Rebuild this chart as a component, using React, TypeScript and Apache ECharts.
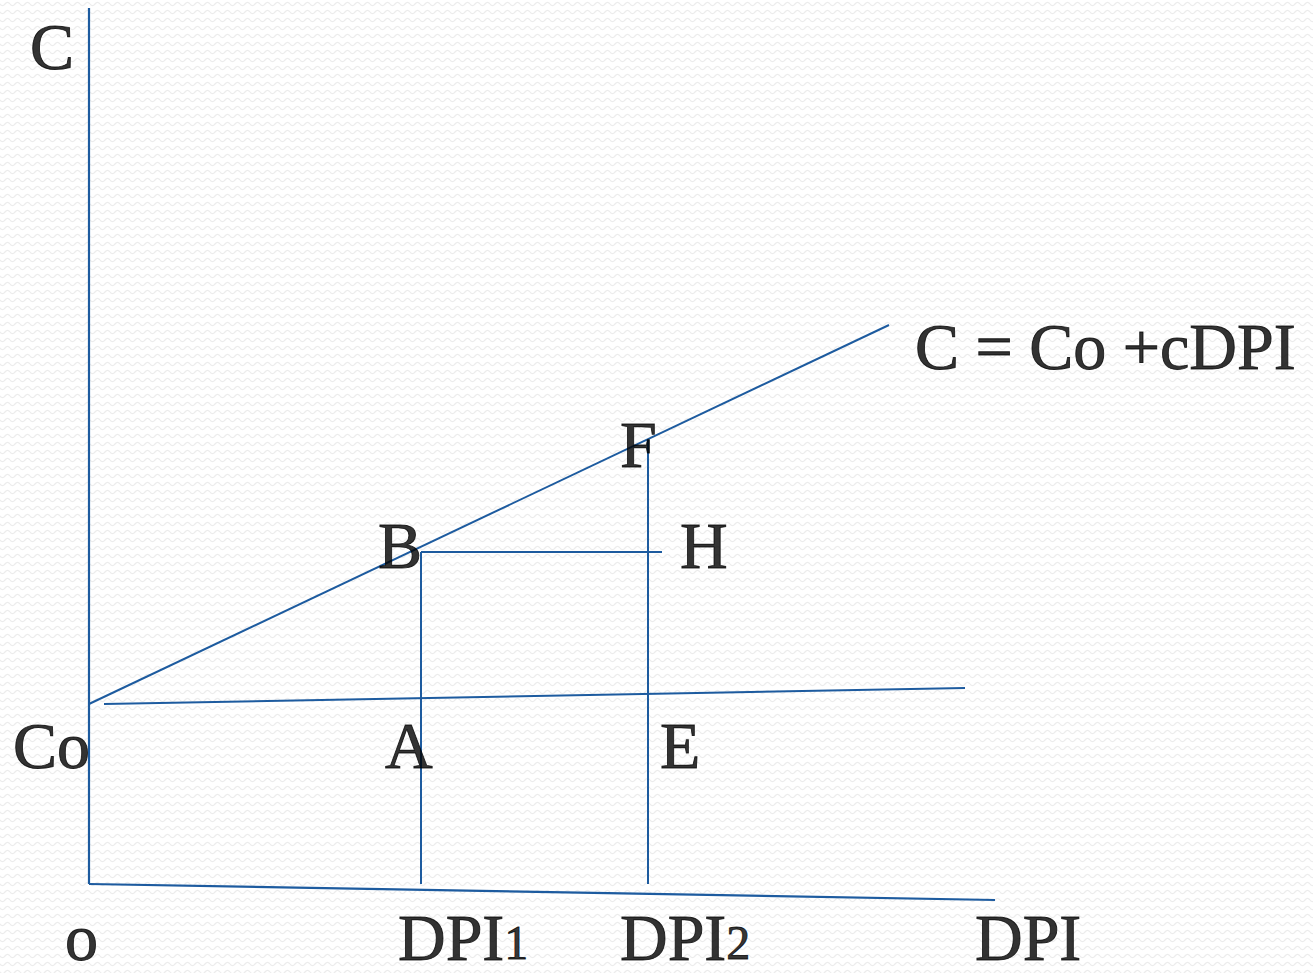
import React, { useEffect, useRef } from "react";
import * as echarts from "echarts";

// Diagram units: origin at the corner of the axes, y upwards.
const yAxisLine: number[][] = [[0, 0], [0, 876]];
const xAxisLine: number[][] = [[0, 0], [906, -16]];
const consumptionLine: number[][] = [[0, 180], [800, 559]];
const autonomousLine: number[][] = [[15, 180], [876, 196]];
const dpi1Line: number[][] = [[332, 0], [332, 332]];
const dpi2Line: number[][] = [[559, 0], [559, 444]];
const bhLine: number[][] = [[332, 332], [573, 332]];

// Label anchors (left edge, vertical middle) and their texts
const labelNames: string[] = ["C", "eq", "F", "B", "H", "A", "E", "Co", "o", "DPI1", "DPI2", "DPI"];
const labelX: number[] = [-59, 826, 531, 289, 591, 296, 571, -76, -24, 309, 531, 886];
const labelY: number[] = [838, 538, 440, 339, 339, 139, 139, 139, -53, -53, -53, -53];
const labelTexts: string[] = [
  "{m|C}",
  "{m|C = Co +cDPI}",
  "{m|F}",
  "{m|B}",
  "{m|H}",
  "{m|A}",
  "{m|E}",
  "{m|Co}",
  "{m|o}",
  "{m|DPI}{s|1}",
  "{m|DPI}{s|2}",
  "{m|DPI}",
];

const LINE_COLOR = "#1d5b9f";
const FONT = "'Liberation Serif', 'DejaVu Serif', serif";

function makePattern(): string {
  const c = document.createElement("canvas");
  c.width = 10;
  c.height = 8;
  const ctx = c.getContext("2d");
  if (!ctx) return "";
  ctx.fillStyle = "#ffffff";
  ctx.fillRect(0, 0, 10, 8);
  ctx.strokeStyle = "#ececec";
  ctx.lineWidth = 1.2;
  ctx.beginPath();
  for (let i = 0; i <= 20; i++) {
    const x = (i / 20) * 10;
    const y = 4 + 1.6 * Math.sin((i / 20) * Math.PI * 2);
    if (i === 0) ctx.moveTo(x, y);
    else ctx.lineTo(x, y);
  }
  ctx.stroke();
  return c.toDataURL();
}

function lineSeries(data: number[][], width = 2) {
  return {
    type: "line",
    data,
    symbol: "none",
    silent: true,
    lineStyle: { color: LINE_COLOR, width },
    z: 2,
  };
}

const textStyle = {
  fontFamily: FONT,
  color: "#000",
  textBorderColor: "#000",
  textBorderWidth: 0.9,
  verticalAlign: "bottom",
};

export default function App() {
  const ref = useRef<HTMLDivElement>(null);
  useEffect(() => {
    document.body.style.margin = "0";
    if (!ref.current) return;
    const chart = echarts.init(ref.current, null, { renderer: "svg" });
    const pattern = makePattern();
    chart.setOption({
      animation: false,
      backgroundColor: pattern
        ? { image: pattern, repeat: "repeat" }
        : "#fbfbfb",
      grid: { left: 0, right: 0, top: 0, bottom: 0 },
      xAxis: { type: "value", min: -89, max: 1224, show: false },
      yAxis: { type: "value", min: -89, max: 884, show: false },
      series: [
        lineSeries(yAxisLine, 2.2),
        lineSeries(xAxisLine, 2.2),
        lineSeries(consumptionLine),
        lineSeries(autonomousLine),
        lineSeries(dpi1Line),
        lineSeries(dpi2Line),
        lineSeries(bhLine),
        {
          type: "scatter",
          symbolSize: 1,
          itemStyle: { color: "transparent" },
          silent: true,
          z: 3,
          data: labelNames.map((n, i) => ({ name: n, value: [labelX[i], labelY[i]] })),
          label: {
            show: true,
            position: "inside",
            align: "left",
            verticalAlign: "middle",
            color: "#000",
            formatter: (p: any) => labelTexts[p.dataIndex],
            rich: {
              m: { ...textStyle, fontSize: 66 },
              s: { ...textStyle, fontSize: 48, padding: [0, 0, 4, 0] },
            },
          },
        },
      ],
    });
    return () => chart.dispose();
  }, []);
  return <div ref={ref} style={{ width: 1313, height: 973 }} />;
}
